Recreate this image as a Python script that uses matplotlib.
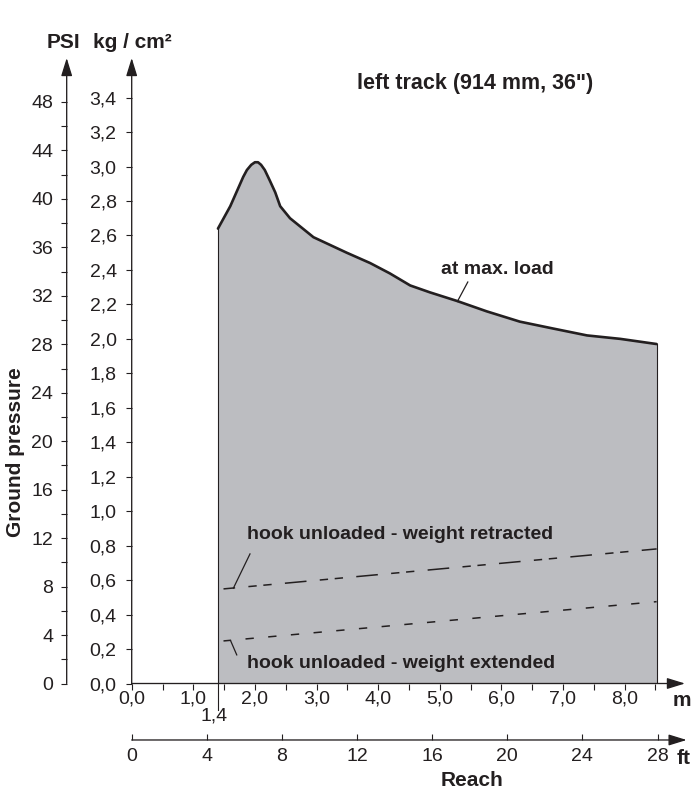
import matplotlib
matplotlib.use('Agg')
import matplotlib.pyplot as plt
import numpy as np

plt.rcParams['font.family'] = ['Liberation Sans', 'DejaVu Sans']
plt.rcParams['lines.scale_dashes'] = False

KG_TO_PSI = 14.2233
M_TO_FT = 3.28084

# ground pressure at max. load (reach in m, pressure in kg/cm2)
reach_m = [1.40, 1.60, 1.81, 1.87, 1.94, 2.00, 2.05, 2.10, 2.16, 2.24, 2.33, 2.41, 2.57, 2.95,
           3.49, 3.87, 4.19, 4.52, 4.84, 5.28, 5.76, 6.30, 6.84, 7.39, 7.93, 8.52]
pressure_max = [2.64, 2.77, 2.94, 2.98, 3.01, 3.025, 3.025, 3.01, 2.98, 2.92, 2.85, 2.77, 2.70, 2.59,
                2.50, 2.44, 2.38, 2.31, 2.27, 2.22, 2.16, 2.10, 2.06, 2.02, 2.00, 1.97]

# hook unloaded lines
reach_unloaded = [1.49, 8.52]
pressure_retracted = [0.549, 0.781]
pressure_extended = [0.247, 0.475]

x_max_m = 8.98
y_max_kg = 3.63

m_ticks = np.arange(0, 8.5, 1.0)
m_minor = np.arange(0.5, 9.0, 1.0)
kg_ticks = np.arange(0, 3.41, 0.2)
psi_ticks = np.arange(0, 49, 4)
psi_minor = np.arange(2, 47, 4)
ft_ticks = np.arange(0, 29, 4)

INK = '#231f20'
FILL = '#bcbdc1'
W, H = 697, 793


def comma(v):
    return f'{v:.1f}'.replace('.', ',')


def px(x, y):
    # pixel position (from top left) -> figure fraction
    return x / W, 1 - y / H


fig = plt.figure(figsize=(W / 100, H / 100), dpi=100)
ax = fig.add_axes([0.18895, 0.13808, 0.7938, 0.78878])
ax.set_xlim(0, x_max_m)
ax.set_ylim(0, y_max_kg)
for s in ax.spines.values():
    s.set_visible(False)

# shaded area under max load curve
ax.fill_between(reach_m, pressure_max, 0, color=FILL, lw=0, zorder=1)
ax.plot(reach_m, pressure_max, color=INK, lw=1.9, zorder=3,
        solid_capstyle='round', solid_joinstyle='round')
ax.plot([reach_m[0]] * 2, [-0.151, pressure_max[0]], color=INK, lw=0.8,
        clip_on=False, zorder=3)
ax.plot([reach_m[-1]] * 2, [0, pressure_max[-1]], color=INK, lw=0.8, zorder=3)

# unloaded lines
ax.plot(reach_unloaded, pressure_retracted, color=INK, lw=1.1, zorder=3,
        linestyle=(7.2, (15.6, 9.6, 6.0, 4.8, 6.0, 9.6)))
ax.plot(reach_unloaded, pressure_extended, color=INK, lw=1.1, zorder=3,
        linestyle=(0.5, (6.0, 10.4)))

# leaders
ax.plot([1.65, 1.92], [0.553, 0.752], color=INK, lw=0.9, zorder=3)
ax.plot([1.607, 1.705], [0.247, 0.166], color=INK, lw=0.9, zorder=3)
ax.plot([5.286, 5.455], [2.217, 2.33], color=INK, lw=0.9, zorder=3)

note = dict(fontsize=14, fontweight='bold', color=INK)
head = dict(fontsize=15, fontweight='bold', color=INK)
ax.text(5.57, 3.48, 'left track (914 mm, 36")', ha='center', va='center',
        fontsize=15.5, fontweight='bold', color=INK)
ax.text(5.94, 2.405, 'at max. load', ha='center', va='center', **note)
ax.text(1.867, 0.862, 'hook unloaded - weight retracted', ha='left', va='center', **note)
ax.text(1.867, 0.117, 'hook unloaded - weight extended', ha='left', va='center', **note)

# m axis
ax.set_xticks(m_ticks)
ax.set_xticklabels([comma(v) for v in m_ticks])
ax.set_xticks(m_minor, minor=True)
ax.tick_params(axis='x', which='both', direction='out', length=4.3, width=0.8,
               color=INK, labelcolor=INK, labelsize=14, pad=1.0)
# kg axis
ax.set_yticks(kg_ticks)
ax.set_yticklabels([comma(v) for v in kg_ticks])
ax.tick_params(axis='y', direction='out', length=4.3, width=0.8,
               color=INK, labelcolor=INK, labelsize=14, pad=6.5)

# PSI axis
ax2 = ax.twinx()
ax2.set_ylim(0, y_max_kg * KG_TO_PSI)
for s in ax2.spines.values():
    s.set_visible(False)
ax2.spines['left'].set_position(('axes', -0.1175))
ax2.yaxis.set_ticks_position('left')
ax2.set_yticks(psi_ticks)
ax2.set_yticks(psi_minor, minor=True)
ax2.tick_params(axis='y', which='both', direction='out', length=4.3, width=0.8,
                color=INK, labelcolor=INK, labelsize=14, pad=5.5,
                left=True, right=False, labelleft=True, labelright=False)

# ft axis
ax3 = ax.twiny()
ax3.set_xlim(0, x_max_m * M_TO_FT)
for s in ax3.spines.values():
    s.set_visible(False)
ax3.spines['bottom'].set_position(('axes', -0.0903))
ax3.xaxis.set_ticks_position('bottom')
ax3.set_xticks(ft_ticks)
ax3.tick_params(axis='x', direction='in', length=4.0, width=0.8,
                color=INK, labelcolor=INK, labelsize=14, pad=5.5,
                bottom=True, top=False, labelbottom=True, labeltop=False)


def arrow(x0, y0, x1, y1):
    ax.annotate('', xy=(x1, y1), xytext=(x0, y0), xycoords='axes fraction',
                textcoords='axes fraction', annotation_clip=False,
                arrowprops=dict(arrowstyle='-|>,head_length=1.1,head_width=0.34',
                                color=INK, lw=0.95, shrinkA=0, shrinkB=0))


arrow(0, 0, 1, 0)
arrow(0, 0, 0, 1)
arrow(-0.1175, 0, -0.1175, 1)
arrow(0, -0.0903, 1.003, -0.0903)

# axis titles
fig.text(*px(63, 43), 'PSI', ha='center', va='center', **head)
fig.text(*px(132, 43), 'kg / cm²', ha='center', va='center', **head)
fig.text(*px(16, 452), 'Ground pressure', rotation=90, ha='center', va='center', **head)
fig.text(*px(682, 700), 'm', ha='center', va='center', **head)
fig.text(*px(684, 758), 'ft', ha='center', va='center', **head)
fig.text(*px(472, 781), 'Reach', ha='center', va='center', **head)
fig.text(*px(214, 716), '1,4', ha='center', va='center', fontsize=14, color=INK)

fig.savefig('out.png', dpi=100)
